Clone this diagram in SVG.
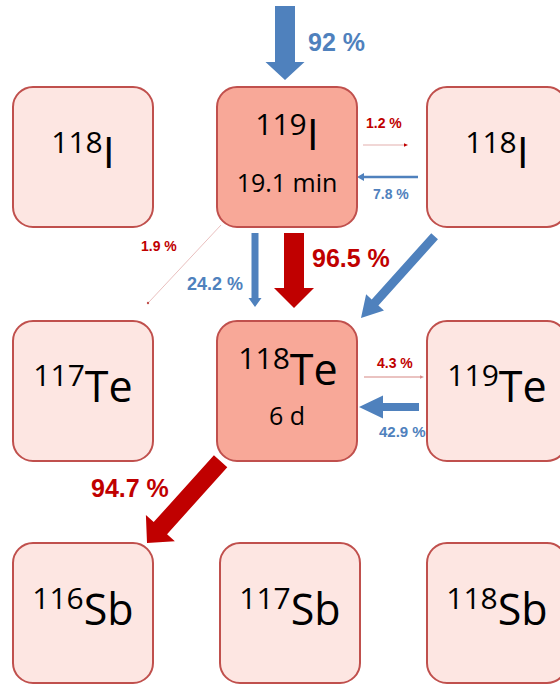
<svg xmlns="http://www.w3.org/2000/svg" width="560" height="684" viewBox="0 0 560 684">
<style>
.box{fill:#FDE6E2;stroke:#C0504D;stroke-width:2}
.hot{fill:#F8A898;stroke:#C0504D;stroke-width:2}
.el{font-family:"Open Sans","Liberation Sans",sans-serif;font-size:43px;fill:#000;text-anchor:middle}
.sup{font-size:30px}
.hl{font-family:"Open Sans","Liberation Sans",sans-serif;font-size:25px;fill:#000;text-anchor:middle}
.pb{font-family:"Liberation Sans",Arial,sans-serif;font-weight:bold;fill:#4F81BD}
.pr{font-family:"Liberation Sans",Arial,sans-serif;font-weight:bold;fill:#C00000}
.blue{fill:#4F81BD}
.red{fill:#C00000}
.thin{stroke:#E3AFAD;fill:none}
</style>
<g id="connectors">
  <polygon class="blue" transform="translate(285,80) rotate(90)" points="-74,-10 -18,-10 -18,-19.5 0,0 -18,19.5 -18,10 -74,10"/>
  <polygon class="red" transform="translate(294,308) rotate(90)" points="-75,-10 -20,-10 -20,-20 0,0 -20,20 -20,10 -75,10"/>
  <polygon class="blue" transform="translate(255,307) rotate(90)" points="-74,-3.5 -9,-3.5 -9,-6.5 0,0 -9,6.5 -9,3.5 -74,3.5"/>
  <polygon class="blue" transform="translate(361,318) rotate(132)" points="-110,-4.5 -21,-4.5 -21,-12 0,0 -21,12 -21,4.5 -110,4.5"/>
  <polygon class="red" transform="translate(147,543) rotate(132)" points="-110,-9 -20,-9 -20,-19.5 0,0 -20,19.5 -20,9 -110,9"/>
  <polygon class="blue" transform="translate(359,407) rotate(180)" points="-60,-4 -24,-4 -24,-11.5 0,0 -24,11.5 -24,4 -60,4"/>
  <polygon class="blue" transform="translate(357,177) rotate(180)" points="-61,-1.3 -7,-1.3 -7,-4 0,0 -7,4 -7,1.3 -61,1.3"/>
  <line class="thin" x1="363" y1="145" x2="406" y2="145" stroke-width="1"/>
  <polygon class="red" points="408,145 404,143.3 404,146.7"/>
  <line class="thin" x1="364" y1="377" x2="422" y2="377" stroke-width="1.5"/>
  <polygon points="424,377 420,375.3 420,378.7" fill="#D98E8C"/>
  <line class="thin" x1="221" y1="225" x2="149" y2="302" stroke-width="0.8"/>
  <circle cx="148" cy="303" r="1.2" fill="#C0504D"/>
</g>
<g id="labels">
  <text class="pb" x="308" y="51" font-size="25">92 %</text>
  <text class="pr" x="366" y="128" font-size="14">1.2 %</text>
  <text class="pb" x="373" y="199" font-size="14">7.8 %</text>
  <text class="pr" x="141" y="251" font-size="14">1.9 %</text>
  <text class="pb" x="187" y="290" font-size="18">24.2 %</text>
  <text class="pr" x="312" y="267" font-size="25">96.5 %</text>
  <text class="pr" x="377" y="368" font-size="14">4.3 %</text>
  <text class="pb" x="379" y="437" font-size="15">42.9 %</text>
  <text class="pr" x="91" y="497" font-size="25">94.7 %</text>
</g>
<g id="I118a">
  <rect class="box" x="13" y="87" width="140" height="140" rx="20"/>
  <text class="el" x="83" y="168"><tspan class="sup" dy="-15">118</tspan><tspan dy="15">I</tspan></text>
</g>
<g id="I119">
  <rect class="hot" x="217" y="87" width="140" height="140" rx="20"/>
  <text class="el" x="287" y="150"><tspan class="sup" dy="-15">119</tspan><tspan dy="15">I</tspan></text>
  <text class="hl" x="287" y="192">19.1 min</text>
</g>
<g id="I118b">
  <rect class="box" x="427" y="87" width="140" height="140" rx="20"/>
  <text class="el" x="497" y="168"><tspan class="sup" dy="-15">118</tspan><tspan dy="15">I</tspan></text>
</g>
<g id="Te117">
  <rect class="box" x="13" y="321" width="140" height="140" rx="20"/>
  <text class="el" x="83" y="402"><tspan class="sup" dy="-16">117</tspan><tspan dy="16">Te</tspan></text>
</g>
<g id="Te118">
  <rect class="hot" x="217" y="321" width="140" height="140" rx="20"/>
  <text class="el" x="288" y="385"><tspan class="sup" dy="-16">118</tspan><tspan dy="16">Te</tspan></text>
  <text class="hl" x="287" y="425">6 d</text>
</g>
<g id="Te119">
  <rect class="box" x="427" y="321" width="140" height="140" rx="20"/>
  <text class="el" x="497" y="402"><tspan class="sup" dy="-16">119</tspan><tspan dy="16">Te</tspan></text>
</g>
<g id="Sb116">
  <rect class="box" x="13" y="543" width="140" height="140" rx="20"/>
  <text class="el" x="83" y="625"><tspan class="sup" dy="-16">116</tspan><tspan dy="16">Sb</tspan></text>
</g>
<g id="Sb117">
  <rect class="box" x="220" y="543" width="140" height="140" rx="20"/>
  <text class="el" x="290" y="625"><tspan class="sup" dy="-16">117</tspan><tspan dy="16">Sb</tspan></text>
</g>
<g id="Sb118">
  <rect class="box" x="427" y="543" width="140" height="140" rx="20"/>
  <text class="el" x="497" y="625"><tspan class="sup" dy="-16">118</tspan><tspan dy="16">Sb</tspan></text>
</g>
</svg>
